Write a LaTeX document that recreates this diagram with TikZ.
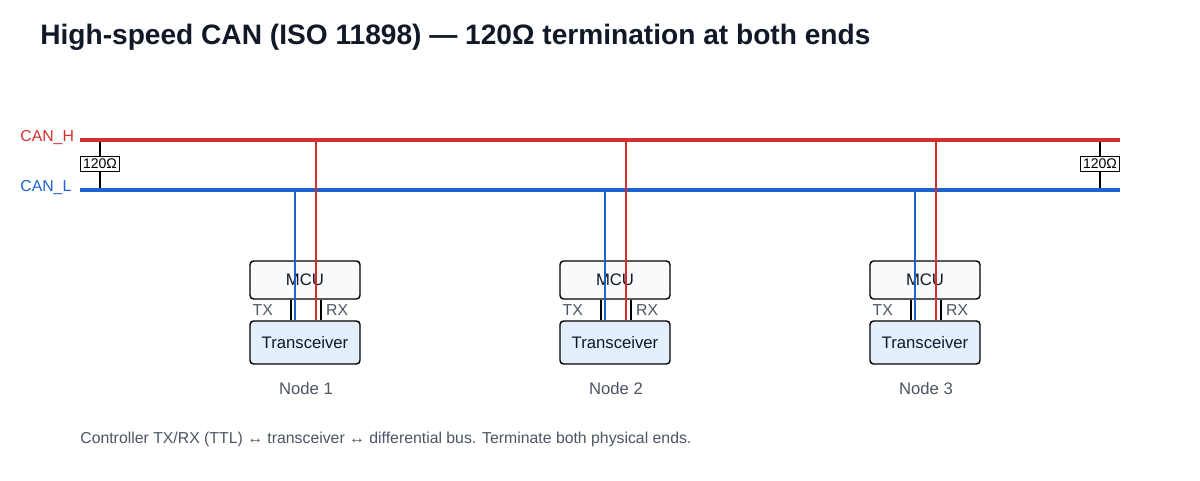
\documentclass[tikz,border=0pt]{standalone}
\usepackage{fontspec}
\setmainfont{Liberation Sans}
\usetikzlibrary{positioning}
\definecolor{canh}{HTML}{D32F2F}
\definecolor{canl}{HTML}{1E62D0}
\definecolor{ink}{HTML}{111827}
\definecolor{grey}{HTML}{4B5563}
\definecolor{mcufill}{HTML}{F8FAFC}
\definecolor{trxfill}{HTML}{E3F0FC}
\begin{document}
\begin{tikzpicture}[x=0.02cm,y=-0.02cm,
  box/.style={draw=black,thick,rounded corners=2pt,minimum width=2.2cm,font=\fontsize{9.5pt}{11pt}\selectfont,text=ink},
  res/.style={draw=black,fill=white,inner sep=1.5pt,font=\fontsize{8pt}{9pt}\selectfont},
  bus/.style={line width=2.3pt},
  drop/.style={line width=1pt},
  small/.style={font=\fontsize{9pt}{10pt}\selectfont,text=grey}]
\useasboundingbox (0,0) rectangle (1200,480);
\node[anchor=west,inner sep=0,font=\bfseries\fontsize{16pt}{18pt}\selectfont,text=ink] (title) at (40,37) {High-speed CAN (ISO 11898) — 120Ω termination at both ends};
% bus
\coordinate (hA) at (80,140); \coordinate (hB) at (1120,140);
\coordinate (lA) at (80,190); \coordinate (lB) at (1120,190);
\node[anchor=west,inner sep=0,text=canh,font=\fontsize{9pt}{10pt}\selectfont] (lblh) at (20,138) {CAN\_H};
\node[anchor=west,inner sep=0,text=canl,font=\fontsize{9pt}{10pt}\selectfont] (lbll) at (20,188) {CAN\_L};
\foreach \x/\n in {100/ra,1100/rb} {
  \coordinate (\n h) at (\x,140); \coordinate (\n l) at (\x,190);
  \draw[thick] (\n h) -- (\n l);
  \node[res] (\n) at (\x,164) {120Ω};
}
\draw[bus,canh] (hA) -- (hB);
\draw[bus,canl] (lA) -- (lB);
% nodes
\foreach \x/\i in {305/1,615/2,925/3} {
  \node[box,fill=mcufill,minimum height=0.76cm] (mcu\i) at (\x,280) {MCU};
  \node[box,fill=trxfill,minimum height=0.86cm] (trx\i) at (\x,342.5) {Transceiver};
  \draw[thick] ([xshift=0.32cm]mcu\i.south) -- ([xshift=0.32cm]trx\i.north);
  \draw[thick] ([xshift=-0.28cm]mcu\i.south) -- ([xshift=-0.28cm]trx\i.north);
  \node[small,anchor=east] (tx\i) at (\x-26,310) {TX};
  \node[small,anchor=west] (rx\i) at (\x+15,310) {RX};
  \coordinate (tl\i) at (\x-10,190); \coordinate (th\i) at (\x+11,140);
  \draw[drop,canl] (tl\i) -- (tl\i |- trx\i.north);
  \draw[drop,canh] (th\i) -- (th\i |- trx\i.north);
  \node[small,font=\fontsize{9.5pt}{11pt}\selectfont] (name\i) at (\x+1,389) {Node \i};
}
\node[small,anchor=west,inner sep=0] (note) at (80,439) {Controller TX/RX (TTL) ↔ transceiver ↔ differential bus. Terminate both physical ends.};
\end{tikzpicture}
\end{document}
